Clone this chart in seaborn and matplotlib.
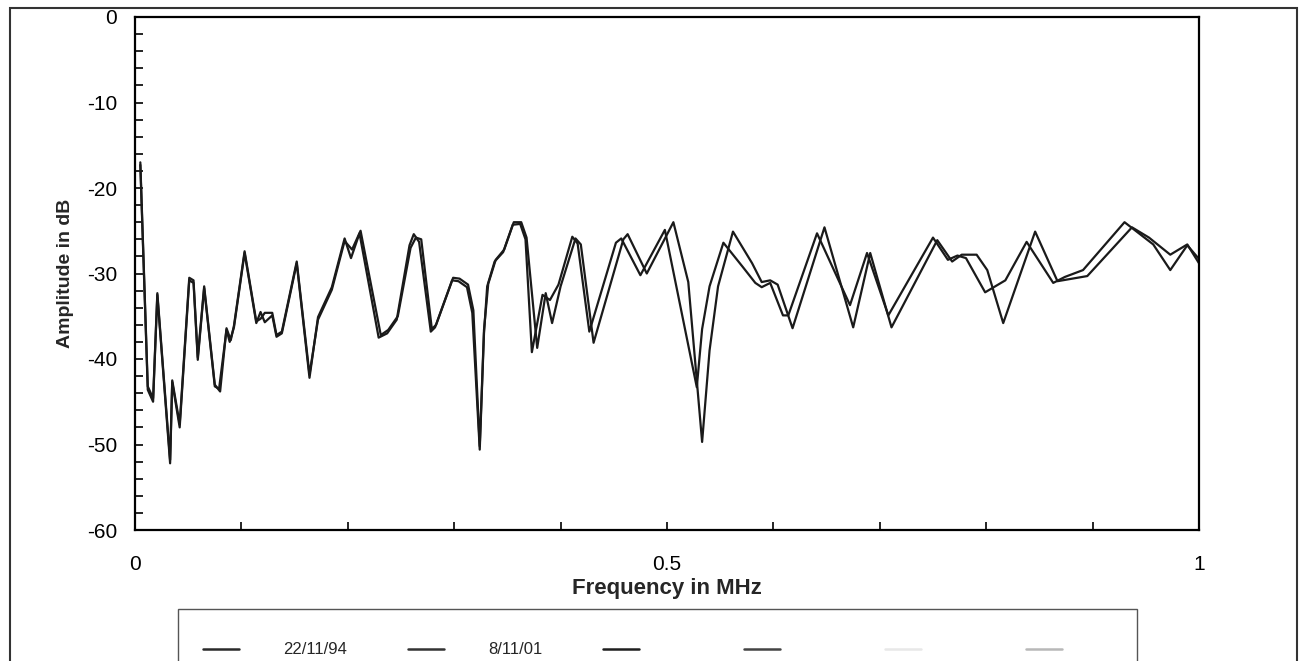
import matplotlib
matplotlib.use("Agg")
import matplotlib.pyplot as plt
from matplotlib.lines import Line2D
from matplotlib.patches import Rectangle
from matplotlib.ticker import MultipleLocator
import seaborn as sns
import pandas as pd

# spectrum: frequency (MHz) / amplitude (dB)
freq_94 = [0.005, 0.012, 0.017, 0.021, 0.033, 0.035, 0.042, 0.051, 0.055, 0.059,
           0.065, 0.075, 0.079, 0.086, 0.089, 0.093, 0.103, 0.114, 0.118, 0.122,
           0.129, 0.133, 0.138, 0.152, 0.164, 0.172, 0.185, 0.197, 0.203, 0.211,
           0.229, 0.237, 0.246, 0.258, 0.262, 0.267, 0.278, 0.282, 0.298, 0.304,
           0.312, 0.317, 0.324, 0.328, 0.331, 0.338, 0.346, 0.355, 0.362, 0.367,
           0.373, 0.383, 0.390, 0.398, 0.411, 0.416, 0.427, 0.452, 0.457, 0.475,
           0.498, 0.528, 0.533, 0.540, 0.553, 0.571, 0.583, 0.589, 0.597, 0.609,
           0.614, 0.641, 0.672, 0.688, 0.708, 0.750, 0.764, 0.773, 0.781, 0.799,
           0.818, 0.838, 0.863, 0.874, 0.891, 0.930, 0.957, 0.973, 0.989, 1.000]
amp_94 = [-17.3, -43.6, -45.0, -32.5, -52.2, -42.7, -48.0, -30.8, -31.1, -40.1,
          -31.7, -43.2, -43.5, -36.6, -38.0, -36.3, -27.6, -35.8, -34.5, -35.7,
          -34.9, -37.4, -37.0, -28.8, -42.2, -35.1, -31.6, -25.9, -28.2, -25.3,
          -37.5, -37.0, -35.4, -26.7, -25.4, -26.3, -36.8, -36.3, -30.8, -30.9,
          -31.6, -34.6, -50.6, -37.0, -31.5, -28.6, -27.5, -24.3, -24.2, -26.0,
          -39.2, -32.5, -33.1, -31.3, -25.7, -26.5, -36.8, -26.4, -25.9, -30.2,
          -24.9, -43.3, -36.5, -31.5, -26.4, -29.2, -31.1, -31.6, -31.1, -34.9,
          -34.9, -25.3, -33.7, -27.6, -34.9, -25.8, -28.4, -27.9, -28.2, -32.2,
          -30.8, -26.3, -31.1, -30.4, -29.6, -24.0, -26.6, -29.6, -26.7, -28.3]

freq_01 = [0.005, 0.012, 0.017, 0.021, 0.033, 0.035, 0.042, 0.051, 0.055, 0.059,
           0.065, 0.075, 0.080, 0.086, 0.090, 0.093, 0.103, 0.114, 0.118, 0.122,
           0.129, 0.133, 0.138, 0.152, 0.164, 0.172, 0.185, 0.197, 0.204, 0.212,
           0.231, 0.238, 0.247, 0.259, 0.264, 0.269, 0.279, 0.283, 0.299, 0.305,
           0.313, 0.318, 0.324, 0.328, 0.332, 0.339, 0.347, 0.356, 0.363, 0.368,
           0.378, 0.386, 0.392, 0.400, 0.414, 0.419, 0.431, 0.459, 0.463, 0.481,
           0.506, 0.520, 0.533, 0.540, 0.548, 0.562, 0.580, 0.589, 0.597, 0.604,
           0.618, 0.648, 0.675, 0.691, 0.711, 0.754, 0.768, 0.777, 0.791, 0.801,
           0.816, 0.846, 0.867, 0.895, 0.937, 0.953, 0.973, 0.989, 1.000]
amp_01 = [-17.0, -43.2, -44.6, -32.3, -51.8, -42.5, -47.6, -30.5, -30.8, -39.8,
          -31.5, -43.0, -43.8, -36.4, -37.8, -36.1, -27.4, -35.6, -35.3, -34.6,
          -34.6, -37.2, -36.8, -28.6, -41.8, -35.4, -31.9, -26.2, -27.2, -25.0,
          -37.2, -36.6, -35.0, -27.0, -25.8, -26.0, -36.5, -36.0, -30.5, -30.6,
          -31.3, -34.3, -50.2, -36.6, -31.2, -28.4, -27.2, -24.0, -24.0, -25.8,
          -38.7, -32.3, -35.8, -31.5, -25.9, -26.6, -38.1, -26.0, -25.4, -30.0,
          -24.0, -31.0, -49.7, -39.0, -31.5, -25.1, -28.8, -31.0, -30.8, -31.3,
          -36.4, -24.6, -36.3, -27.6, -36.3, -26.1, -28.6, -27.8, -27.8, -29.6,
          -35.8, -25.1, -30.9, -30.3, -24.6, -25.8, -27.8, -26.6, -28.8]

legend_labels = ["22/11/94", "8/11/01", "", "", "", ""]
legend_colors = ["#2a2a2a", "#333333", "#1e1e1e", "#444444", "#e8e8e8", "#b8b8b8"]

sns.set_style("white")
plt.rcParams["font.family"] = ["Liberation Sans", "DejaVu Sans"]
plt.rcParams["axes.unicode_minus"] = False

fig = plt.figure(figsize=(13.08, 6.61), dpi=100)
ax = fig.add_axes([135 / 1308, 1 - 530 / 661, 1064 / 1308, 513 / 661])

df94 = pd.DataFrame({"freq": freq_94, "amp": amp_94})
df01 = pd.DataFrame({"freq": freq_01, "amp": amp_01})
sns.lineplot(data=df94, x="freq", y="amp", ax=ax, color="#1a1a1a", lw=1.6, estimator=None)
sns.lineplot(data=df01, x="freq", y="amp", ax=ax, color="#1a1a1a", lw=1.6, estimator=None)

ax.set_xlim(0, 1)
ax.set_ylim(-60, 0)
ax.xaxis.set_major_locator(MultipleLocator(0.5))
ax.xaxis.set_minor_locator(MultipleLocator(0.1))
ax.yaxis.set_major_locator(MultipleLocator(10))
ax.yaxis.set_minor_locator(MultipleLocator(2))
ax.set_xticklabels([], minor=True)
ax.xaxis.set_major_formatter(matplotlib.ticker.FuncFormatter(lambda v, p: f"{v:g}"))
ax.tick_params(axis="both", which="both", direction="in", length=6, width=1.2,
               colors="black", labelsize=15)
ax.tick_params(axis="x", which="both", bottom=True, top=False, pad=18)
ax.tick_params(axis="y", which="both", left=True, right=False, pad=13)
for sp in ax.spines.values():
    sp.set_color("black")
    sp.set_linewidth(1.6)

ax.set_xlabel("Frequency in MHz", fontsize=16, fontweight="bold", labelpad=3)
ax.set_ylabel("Amplitude in dB", fontsize=14, fontweight="bold", labelpad=9)

# outer chart frame and legend box
fig.patches.append(Rectangle((10 / 1308, -0.1), 1287 / 1308, 1.1 - 8 / 661,
                             transform=fig.transFigure, fill=False,
                             edgecolor="#333333", lw=1.5))
fig.patches.append(Rectangle((178 / 1308, -0.1), 959 / 1308, 0.1 + 1 - 609 / 661,
                             transform=fig.transFigure, fill=False,
                             edgecolor="#555555", lw=1.0))

handles = [Line2D([], [], color=c, lw=1.8) for c in legend_colors]
fig.legend(handles, legend_labels, loc="center left",
           bbox_to_anchor=(203 / 1308, 1 - 650 / 661), ncol=6, frameon=False,
           fontsize=12, handlelength=2.16, handletextpad=2.64, columnspacing=3.66,
           borderpad=0, borderaxespad=0)

fig.savefig("out.png", dpi=100)
